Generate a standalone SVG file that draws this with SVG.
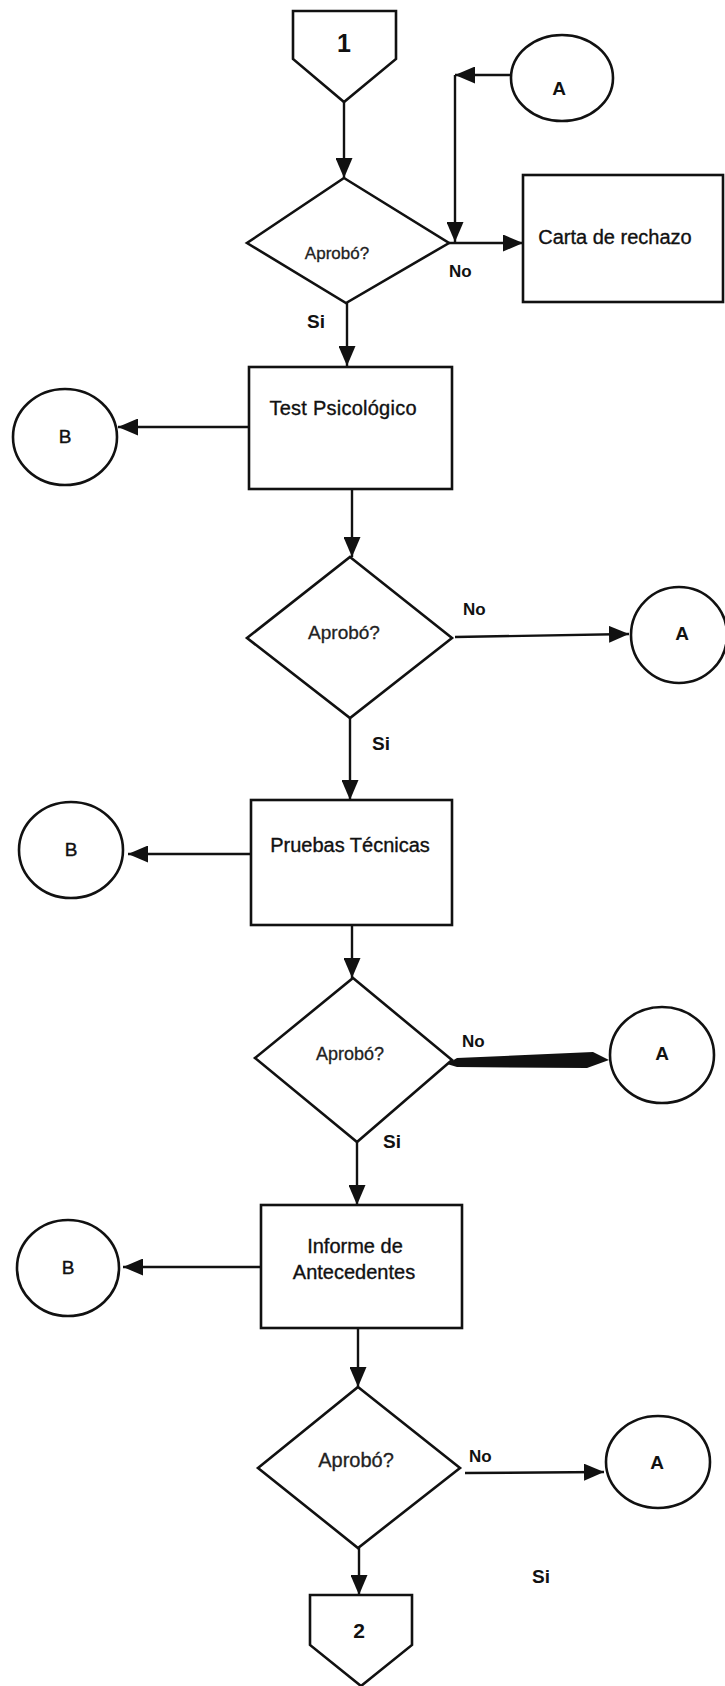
<svg xmlns="http://www.w3.org/2000/svg" width="725" height="1686" viewBox="0 0 725 1686">
  <style>
    .shape { fill: #fff; stroke: #111; stroke-width: 2.6; stroke-linejoin: miter; }
    .conn { fill: none; stroke: #111; stroke-width: 2.4; }
    .lbl { font-family: "Liberation Sans", Arial, sans-serif; fill: #111; text-anchor: middle; }
    .box { font-size: 20px; stroke: #111; stroke-width: 0.35; }
    .q { fill: #222; stroke: #222; stroke-width: 0.3; }
    .yn { font-size: 17px; font-weight: bold; text-anchor: start; }
    .si { font-size: 19px; }
    .ref { font-size: 19px; }
    .refa { font-weight: bold; }
    .refb { stroke: #111; stroke-width: 0.4; }
    .page { font-weight: bold; }
  </style>
  <defs>
    <marker id="arrow" markerUnits="userSpaceOnUse" markerWidth="20" markerHeight="17" refX="20" refY="8.5" orient="auto">
      <path d="M0,0 L20,8.5 L0,17 Z" fill="#111"/>
    </marker>
  </defs>
  <rect width="725" height="1686" fill="#fff"/>

  <!-- connectors -->
  <g id="connectors">
    <path class="conn" d="M344,102 V178" marker-end="url(#arrow)"/>
    <path class="conn" d="M449,243 H523" marker-end="url(#arrow)"/>
    <path class="conn" d="M510,75 H455" marker-end="url(#arrow)"/>
    <path class="conn" d="M455,75 V242" marker-end="url(#arrow)"/>
    <path class="conn" d="M347,303 V366" marker-end="url(#arrow)"/>
    <path class="conn" d="M249,427 H118" marker-end="url(#arrow)"/>
    <path class="conn" d="M352,489 V557" marker-end="url(#arrow)"/>
    <path class="conn" d="M455,637 L629,634" marker-end="url(#arrow)"/>
    <path class="conn" d="M350,718 V800" marker-end="url(#arrow)"/>
    <path class="conn" d="M251,854 H128" marker-end="url(#arrow)"/>
    <path class="conn" d="M352,925 V978" marker-end="url(#arrow)"/>
    <path d="M447,1064 L457,1058 L593,1052 L609,1060 L587,1068 L457,1067 Z" fill="#111"/>
    <path class="conn" d="M357,1142 V1205" marker-end="url(#arrow)"/>
    <path class="conn" d="M261,1267 H123" marker-end="url(#arrow)"/>
    <path class="conn" d="M358,1328 V1387" marker-end="url(#arrow)"/>
    <path class="conn" d="M465,1473 L604,1472" marker-end="url(#arrow)"/>
    <path class="conn" d="M359,1548 V1595" marker-end="url(#arrow)"/>
  </g>

  <!-- off-page connector 1 -->
  <g id="page-1">
    <path class="shape" d="M293,11 H396 V59 L344,102 L293,59 Z"/>
    <text class="lbl page" x="344" y="52" style="font-size:25px">1</text>
  </g>

  <!-- first decision -->
  <g id="decision-1">
    <path class="shape" d="M344,178 L449,243 L346,303 L247,243 Z"/>
    <text class="lbl q" x="337" y="259" style="font-size:17px">Aprobó?</text>
    <text class="lbl yn" x="449" y="277">No</text>
    <text class="lbl yn si" x="307" y="328">Si</text>
  </g>

  <g id="connector-a-top">
    <ellipse class="shape" cx="562" cy="78" rx="51" ry="43"/>
    <text class="lbl ref refa" x="559" y="95">A</text>
  </g>

  <g id="rejection-letter">
    <rect class="shape" x="523" y="175" width="200" height="127"/>
    <text class="lbl box" x="615" y="244">Carta de rechazo</text>
  </g>

  <!-- psychological test -->
  <g id="psych-test">
    <rect class="shape" x="249" y="367" width="203" height="122"/>
    <text class="lbl box" x="343" y="415" textLength="147">Test Psicológico</text>
  </g>
  <g id="connector-b-1">
    <ellipse class="shape" cx="65" cy="437" rx="52" ry="48"/>
    <text class="lbl ref refb" x="65" y="443">B</text>
  </g>

  <g id="decision-2">
    <path class="shape" d="M350,557 L452,638 L350,718 L247,638 Z"/>
    <text class="lbl q" x="344" y="639" style="font-size:19px">Aprobó?</text>
    <text class="lbl yn" x="463" y="615">No</text>
    <text class="lbl yn si" x="372" y="750">Si</text>
  </g>
  <g id="connector-a-2">
    <ellipse class="shape" cx="679" cy="635" rx="48" ry="48"/>
    <text class="lbl ref refa" x="682" y="640">A</text>
  </g>

  <!-- technical tests -->
  <g id="tech-tests">
    <rect class="shape" x="251" y="800" width="201" height="125"/>
    <text class="lbl box" x="350" y="852">Pruebas Técnicas</text>
  </g>
  <g id="connector-b-2">
    <ellipse class="shape" cx="71" cy="850" rx="52" ry="48"/>
    <text class="lbl ref refb" x="71" y="856">B</text>
  </g>

  <g id="decision-3">
    <path class="shape" d="M353,978 L452,1060 L357,1142 L255,1058 Z"/>
    <text class="lbl q" x="350" y="1060" style="font-size:18px">Aprobó?</text>
    <text class="lbl yn" x="462" y="1047">No</text>
    <text class="lbl yn si" x="383" y="1148">Si</text>
  </g>
  <g id="connector-a-3">
    <ellipse class="shape" cx="662" cy="1055" rx="52" ry="48"/>
    <text class="lbl ref refa" x="662" y="1060">A</text>
  </g>

  <!-- background report -->
  <g id="background-report">
    <rect class="shape" x="261" y="1205" width="201" height="123"/>
    <text class="lbl box" x="355" y="1253">Informe de</text>
    <text class="lbl box" x="354" y="1279">Antecedentes</text>
  </g>
  <g id="connector-b-3">
    <ellipse class="shape" cx="68" cy="1268" rx="51" ry="48"/>
    <text class="lbl ref refb" x="68" y="1274">B</text>
  </g>

  <g id="decision-4">
    <path class="shape" d="M358,1387 L460,1468 L358,1548 L258,1468 Z"/>
    <text class="lbl q" x="356" y="1467" style="font-size:20px">Aprobó?</text>
    <text class="lbl yn" x="469" y="1462">No</text>
    <text class="lbl yn si" x="532" y="1583">Si</text>
  </g>
  <g id="connector-a-4">
    <ellipse class="shape" cx="658" cy="1462" rx="52" ry="46"/>
    <text class="lbl ref refa" x="657" y="1469">A</text>
  </g>

  <!-- off-page connector 2 -->
  <g id="page-2">
    <path class="shape" d="M310,1595 H412 V1645 L361,1686 L310,1645 Z"/>
    <text class="lbl page" x="359" y="1638" style="font-size:21px">2</text>
  </g>
</svg>
